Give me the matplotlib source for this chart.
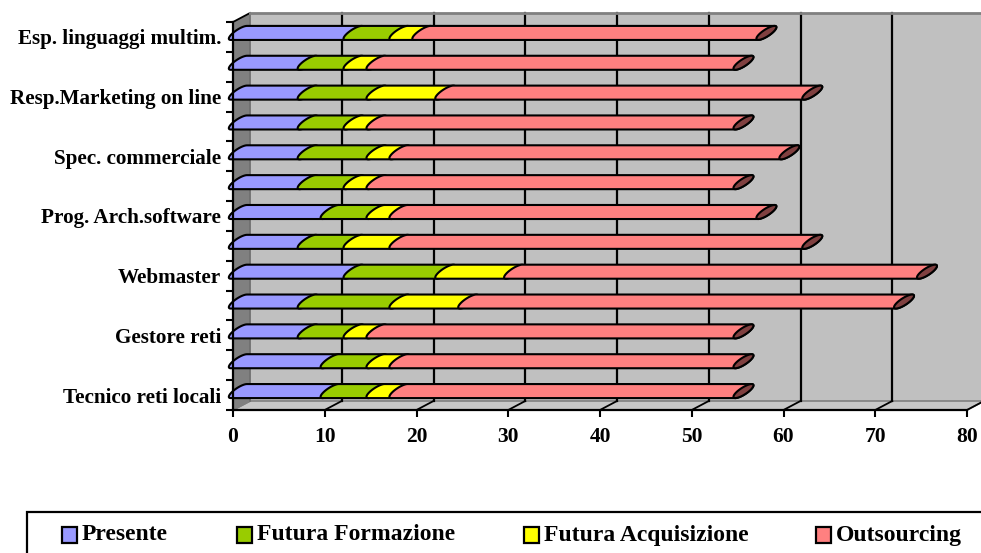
import numpy as np
import matplotlib
matplotlib.use("Agg")
import matplotlib.pyplot as plt
from matplotlib.patches import Polygon, Rectangle
from matplotlib.lines import Line2D
from matplotlib.transforms import IdentityTransform

plt.rcParams['font.family'] = ['Liberation Serif', 'DejaVu Serif']
plt.rcParams['font.weight'] = 'bold'

# righe dall'alto verso il basso (le etichette vuote non vengono scritte)
row_labels = ["Esp. linguaggi multim.", "", "Resp.Marketing on line", "",
              "Spec. commerciale", "", "Prog. Arch.software", "",
              "Webmaster", "", "Gestore reti", "", "Tecnico reti locali"]
presente     = [12.5, 7.5, 7.5, 7.5, 7.5, 7.5, 10, 7.5, 12.5, 7.5, 7.5, 10, 10]
formazione   = [5, 5, 7.5, 5, 7.5, 5, 5, 5, 10, 10, 5, 5, 5]
acquisizione = [2.5, 2.5, 7.5, 2.5, 2.5, 2.5, 2.5, 5, 7.5, 7.5, 2.5, 2.5, 2.5]
outsourcing  = [37.5, 40, 40, 40, 42.5, 40, 40, 45, 45, 47.5, 40, 37.5, 37.5]
series_names = ["Presente", "Futura Formazione", "Futura Acquisizione", "Outsourcing"]
x_ticks = [0, 10, 20, 30, 40, 50, 60, 70, 80]

colors = ["#9999ff", "#99cc00", "#ffff00", "#ff8080"]
cap_color = "#804040"

W, H = 981, 553
fig = plt.figure(figsize=(W / 100, H / 100), dpi=100)
ax = fig.add_axes([233 / W, (H - 410) / H, 734 / W, 388 / H])
n = len(row_labels)
ax.set_xlim(0, 80)
ax.set_ylim(-0.5, n - 0.5)
ax.patch.set_visible(False)

px = IdentityTransform()
depth = np.array([17.0, 9.0])   # spostamento prospettico verso il fondo (pixel)


def to_px(x, y):
    return np.asarray(ax.transData.transform((x, y)), dtype=float)


# --- pareti e pavimento 3D ---
x0, x1 = ax.get_xlim()
y0, y1 = ax.get_ylim()
fl, fr, tl = to_px(x0, y0), to_px(x1, y0), to_px(x0, y1)
far = W + 30

ax.add_patch(Polygon([fl, tl, tl + depth, fl + depth], closed=True, transform=px,
                     facecolor="#808080", edgecolor="none", zorder=0.2, clip_on=False))
ax.add_patch(Polygon([fl + depth, tl + depth, (far, (tl + depth)[1]), (far, (fl + depth)[1])],
                     closed=True, transform=px, facecolor="#c0c0c0", edgecolor="none",
                     zorder=0.1, clip_on=False))
ax.add_patch(Polygon([fl, fr, fr + depth, fl + depth], closed=True, transform=px,
                     facecolor="#c8c8c8", edgecolor="#808080", lw=1.2, zorder=0.3, clip_on=False))

# bordi del muro
for a, b, c in [(tl, tl + depth, "black"), (fl, fl + depth, "#808080"),
                (fl + depth, tl + depth, "#707070")]:
    ax.add_line(Line2D([a[0], b[0]], [a[1], b[1]], transform=px, color=c, lw=1.3,
                       zorder=0.6, clip_on=False))
ax.add_line(Line2D([(tl + depth)[0], far], [(tl + depth)[1]] * 2, transform=px,
                   color="#808080", lw=2, zorder=0.6, clip_on=False))

# griglia sul fondo e sul pavimento
for v in x_ticks[1:]:
    f = to_px(v, y0)
    t = to_px(v, y1)
    if v < x_ticks[-1]:
        ax.add_line(Line2D([f[0] + depth[0]] * 2, [f[1] + depth[1], t[1] + depth[1]],
                           transform=px, color="black", lw=1.6, zorder=0.5, clip_on=False))
    ax.add_line(Line2D([f[0], f[0] + depth[0]], [f[1], f[1] + depth[1]], transform=px,
                       color="black", lw=1.3, zorder=0.5, clip_on=False))

# --- cilindri orizzontali ---
A, B, theta = 11.7, 3.5, np.radians(33)
cs, sn = np.cos(theta), np.sin(theta)
t_top = np.arctan2(B * cs, A * sn)
h0 = A * B / np.sqrt((A * sn) ** 2 + (B * cs) ** 2)
lift = 4.0


def ellipse_pts(t):
    return np.column_stack([A * np.cos(t) * cs - B * np.sin(t) * sn,
                            A * np.cos(t) * sn + B * np.sin(t) * cs])


left_arc = ellipse_pts(np.linspace(t_top, t_top + np.pi, 40))
right_arc = ellipse_pts(np.linspace(t_top + np.pi, t_top + 2 * np.pi, 40))
full_ell = ellipse_pts(np.linspace(0, 2 * np.pi, 80))

series = [presente, formazione, acquisizione, outsourcing]
for i in range(n):
    row = n - 1 - i
    start = 0.0
    for k, vals in enumerate(series):
        end = start + vals[i]
        c0 = to_px(start, row) + (h0, lift)
        c1 = to_px(end, row) + (h0, lift)
        pts = np.vstack([c0 + left_arc, c1 + right_arc])
        ax.add_patch(Polygon(pts, closed=True, transform=px, facecolor=colors[k],
                             edgecolor="black", lw=1.5, zorder=2 + 0.1 * k, clip_on=False))
        start = end
    ce = to_px(start, row) + (h0, lift)
    ax.add_patch(Polygon(ce + full_ell, closed=True, transform=px, facecolor=cap_color,
                         edgecolor="black", lw=1.5, zorder=3, clip_on=False))

# --- assi ---
for s in ["top", "right"]:
    ax.spines[s].set_visible(False)
for s in ["left", "bottom"]:
    ax.spines[s].set_linewidth(1.6)
    ax.spines[s].set_zorder(4)

ax.set_yticks(np.arange(-0.5, n, 1.0))
ax.set_yticklabels([])
ax.set_yticks(np.arange(n), minor=True)
ax.set_yticklabels(row_labels[::-1], minor=True)
ax.tick_params(axis="y", which="major", length=5, width=1.5, direction="out")
ax.tick_params(axis="y", which="minor", length=0, pad=8.5, labelsize=15.2)
ax.set_xticks(x_ticks)
ax.set_xticklabels([str(v) for v in x_ticks])
ax.tick_params(axis="x", length=5, width=1.5, pad=7, labelsize=15.5)

# --- legenda ---
fig.add_artist(Rectangle((27, -10), W, 51, transform=px, fill=False,
                         edgecolor="black", lw=1.6))
leg_x = [62, 237, 524, 816]
for name, col, x in zip(series_names, colors, leg_x):
    fig.add_artist(Rectangle((x, 10), 15, 16, transform=px, facecolor=col,
                             edgecolor="black", lw=1.6))
    fig.text((x + 20) / W, 18 / H, name, fontsize=17, fontweight="bold",
             va="center", ha="left")

fig.savefig("out.png", dpi=100)
